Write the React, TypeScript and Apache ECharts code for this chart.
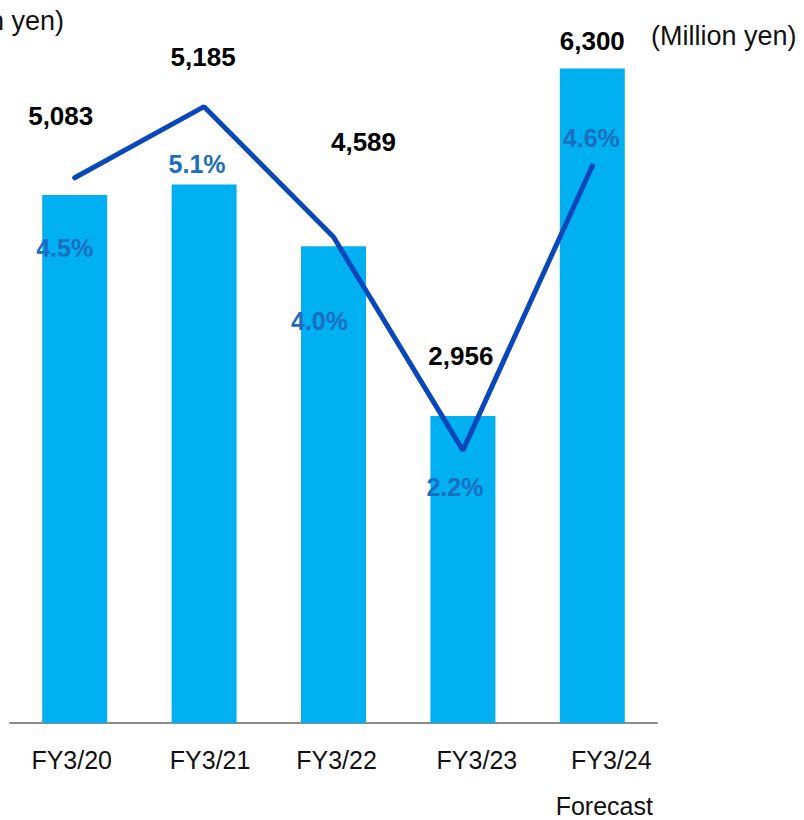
import React, { useEffect, useRef } from "react";
import * as echarts from "echarts";

const categories = ["FY3/20", "FY3/21", "FY3/22", "FY3/23", "FY3/24"];
const profit = [5083, 5185, 4589, 2956, 6300];
const margin = [4.5, 5.1, 4.0, 2.2, 4.6];

// label nudges (pixels) to mimic the reference placement
const profitLabelOffsets = [[-14, -61], [-1, -109], [30, -86], [-2, -42], [0, -10]];
const marginLabelOffsets = [[-10, 70], [-7, 57], [-14, 84], [-8, 37], [-1, -28]];
const categoryLabelShift = [-3, 6, 3, 14, 12];

const FONT = "'Liberation Sans', Arial, sans-serif";

export default function App() {
  const ref = useRef<HTMLDivElement>(null);
  useEffect(() => {
    if (!ref.current) return;
    const chart = echarts.init(ref.current, undefined, { renderer: "svg" });
    const catData = categories.map((c, i) => {
      const s = categoryLabelShift[i];
      const pad = s >= 0 ? [0, 0, 0, 2 * s] : [0, -2 * s, 0, 0];
      return { value: c, textStyle: { padding: pad } };
    });
    chart.setOption({
      animation: false,
      backgroundColor: "#ffffff",
      grid: {
        left: 10,
        right: 147,
        top: 0,
        bottom: 97,
        containLabel: false,
        outerBoundsMode: "none",
      },
      xAxis: {
        type: "category",
        data: catData,
        axisLine: { show: true, lineStyle: { color: "#8C8C8C", width: 2 } },
        axisTick: { show: false },
        axisLabel: {
          interval: 0,
          hideOverlap: false,
          margin: 1,
          fontFamily: FONT,
          fontSize: 25,
          color: "#111111",
          lineHeight: 72,
          formatter: (v: string) =>
            v === categories[categories.length - 1]
              ? "{a|" + v + "}\n{b|Forecast}"
              : v,
          rich: {
            a: { fontFamily: FONT, fontSize: 25, color: "#111111", lineHeight: 72, padding: [0, 0, 0, 14] },
            b: { fontFamily: FONT, fontSize: 25, color: "#111111", lineHeight: 20 },
          },
        },
      },
      yAxis: [
        { type: "value", min: 0, max: 6960, show: false, splitLine: { show: false } },
        { type: "value", min: -0.1, max: 6.0, show: false, splitLine: { show: false } },
      ],
      series: [
        {
          type: "bar",
          barWidth: 65,
          yAxisIndex: 0,
          itemStyle: { color: "#00B0F0" },
          data: profit.map((v, i) => ({
            value: v,
            label: { offset: profitLabelOffsets[i] },
          })),
          label: {
            show: true,
            position: "top",
            distance: 5,
            fontFamily: FONT,
            fontSize: 26,
            fontWeight: "bold",
            color: "#000000",
            formatter: (p: any) => Number(p.value).toLocaleString("en-US"),
          },
          z: 2,
        },
        {
          type: "line",
          yAxisIndex: 1,
          symbol: "circle",
          symbolSize: 1,
          showSymbol: true,
          lineStyle: { color: "#0A47BA", width: 5, cap: "round" },
          itemStyle: { color: "#0A47BA" },
          data: margin.map((v, i) => ({
            value: v,
            label: { offset: marginLabelOffsets[i] },
          })),
          label: {
            show: true,
            position: "inside",
            fontFamily: FONT,
            fontSize: 25,
            fontWeight: "bold",
            color: "#1A6EC0",
            formatter: (p: any) => Number(p.value).toFixed(1) + "%",
          },
          z: 3,
        },
      ],
      graphic: [
        {
          type: "text",
          left: 651,
          top: 22,
          style: { text: "(Million yen)", fontFamily: FONT, fontSize: 27, fill: "#111111" },
        },
        {
          type: "text",
          x: 64,
          y: 21,
          style: {
            text: "(Million yen)",
            fontFamily: FONT,
            fontSize: 27,
            fill: "#111111",
            align: "right",
            verticalAlign: "middle",
          },
        },
      ],
    });
    return () => chart.dispose();
  }, []);
  return (
    <div
      ref={ref}
      style={{ position: "fixed", left: 0, top: 0, width: 804, height: 820 }}
    />
  );
}
